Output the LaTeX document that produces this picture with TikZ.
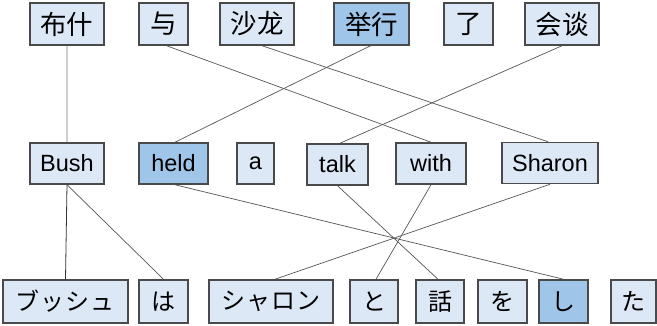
\documentclass[tikz,border=0pt]{standalone}
\usepackage{fontspec}
\setmainfont{Liberation Sans}
\newfontfamily\zhfont{Noto Sans CJK SC}
\newfontfamily\jafont{Noto Sans CJK JP}
\definecolor{boxlight}{HTML}{DCE8F6}
\definecolor{boxdark}{HTML}{9FC5E8}
\definecolor{boxedge}{HTML}{4A4A4A}
\definecolor{linkgray}{HTML}{555555}
\definecolor{linklight}{HTML}{CFCFCF}
\tikzset{
  wordbox/.style={draw=boxedge, line width=1.5pt, fill=boxlight, inner sep=0pt, rectangle, align=center},
  darkbox/.style={wordbox, fill=boxdark},
  zh/.style={font=\zhfont\fontsize{26.5}{30}\selectfont},
  en/.style={font=\fontsize{23.5}{28}\selectfont},
  ja/.style={font=\jafont\fontsize{24}{28}\selectfont},
  toprow/.style={minimum height=42pt},
  midrow/.style={minimum height=41pt},
  botrow/.style={minimum height=43pt},
  link/.style={draw=linkgray, line width=0.7pt},
  lightlink/.style={draw=linklight, line width=1.2pt},
}
\begin{document}
\begin{tikzpicture}[x=1pt,y=-1pt]
\useasboundingbox (0,0) rectangle (657,326);
% top row (Chinese)
\node[wordbox,zh,toprow,minimum width=74pt] (zh1) at (67,24) {布什};
\node[wordbox,zh,toprow,minimum width=49pt] (zh2) at (163.5,24) {与};
\node[wordbox,zh,toprow,minimum width=74pt] (zh3) at (257,24) {沙龙};
\node[darkbox,zh,toprow,minimum width=75pt] (zh4) at (371.5,24) {举行};
\node[wordbox,zh,toprow,minimum width=49pt] (zh5) at (468.5,24) {了};
\node[wordbox,zh,toprow,minimum width=74pt] (zh6) at (562,24) {会谈};
% middle row (English)
\node[wordbox,en,midrow,minimum width=74pt] (en1) at (67,163.5) {Bush};
\node[darkbox,en,midrow,minimum width=69pt] (en2) at (173.5,163.5) {held};
\node[wordbox,en,midrow,minimum width=37pt] (en3) at (255.5,163.5) {a};
\node[wordbox,en,midrow,minimum width=61pt] (en4) at (337.5,164.5) {talk};
\node[wordbox,en,midrow,minimum width=70pt] (en5) at (431,163.5) {with};
\node[wordbox,en,midrow,minimum width=96pt] (en6) at (550,163) {Sharon};
% bottom row (Japanese)
\node[wordbox,ja,botrow,minimum width=125pt] (ja1) at (65.5,301.5) {ブ\hspace{1pt}ッ\hspace{1pt}シ\hspace{1pt}ュ};
\node[wordbox,ja,botrow,minimum width=49pt] (ja2) at (163.5,301.5) {は};
\node[wordbox,ja,botrow,minimum width=124pt] (ja3) at (271,301.5) {シ\hspace{1pt}ャ\hspace{1pt}ロ\hspace{1pt}ン};
\node[wordbox,ja,botrow,minimum width=48pt] (ja4) at (374,301.5) {と};
\node[wordbox,ja,botrow,minimum width=48pt] (ja5) at (440,301.5) {話};
\node[wordbox,ja,botrow,minimum width=49pt] (ja6) at (502.5,301.5) {を};
\node[darkbox,ja,botrow,minimum width=49pt] (ja7) at (563.5,301.5) {し};
\node[wordbox,ja,botrow,minimum width=45pt] (ja8) at (633.5,301.5) {た};
% links Chinese - English
\draw[lightlink] (zh1.south) -- (en1.north);
\draw[link] ([xshift=3pt]zh2.south) -- (en5.north);
\draw[link] ([xshift=5pt]zh3.south) -- ([xshift=-2pt]en6.north);
\draw[link] ([xshift=-1pt]zh4.south) -- ([xshift=1.5pt]en2.north);
\draw[link] (zh6.south) -- ([xshift=2.5pt]en4.north);
% links English - Japanese
\draw[draw=black!80, line width=0.8pt] (en1.south) -- (ja1.north);
\draw[link] (en1.south) -- (ja2.north);
\draw[link] ([xshift=1.5pt]en2.south) -- (ja7.north);
\draw[link] (en4.south) -- ([xshift=-2pt]ja5.north);
\draw[link] (en5.south) -- ([xshift=2pt]ja4.north);
\draw[link] (en6.south) -- ([xshift=4pt]ja3.north);
\end{tikzpicture}
\end{document}
